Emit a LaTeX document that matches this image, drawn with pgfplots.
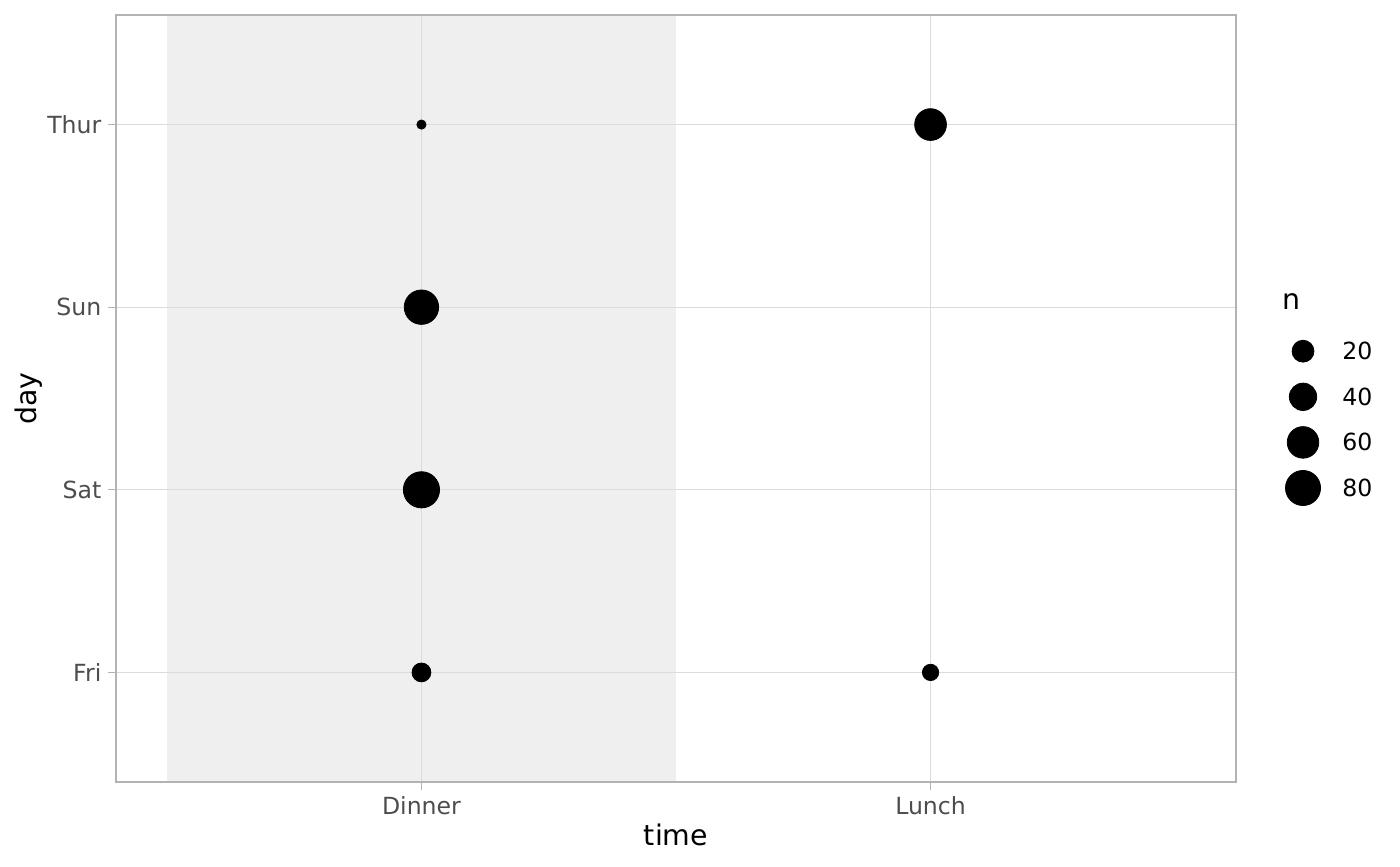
\documentclass[border=0pt]{standalone}
\usepackage{fontspec}
\setmainfont{DejaVu Sans}
\usepackage{pgfplots}
\usepackage{pgfplotstable}
\pgfplotsset{compat=1.18}
\definecolor{gridc}{HTML}{DBDBDB}
\definecolor{borderc}{HTML}{B3B3B3}
\definecolor{tickc}{HTML}{4D4D4D}
\definecolor{shade}{HTML}{EFEFEF}
\pgfplotstableread{
x y n
1 4 1
1 1 12
1 2 87
1 3 76
2 4 61
2 1 7
}\maindata
\pgfplotstableread{
x y n
0 4 20
0 3 40
0 2 60
0 1 80
}\legdata
\begin{document}
\begin{tikzpicture}
\begin{axis}[set layers, scale only axis, width=560pt, height=383.5pt,
  at={(0pt,0pt)}, anchor=south west,
  xmin=0.4, xmax=2.6, ymin=0.4, ymax=4.6,
  xtick={1,2}, xticklabels={Dinner,Lunch},
  ytick={1,2,3,4}, yticklabels={Fri,Sat,Sun,Thur},
  grid=major, major grid style={gridc, line width=0.5pt},
  axis line style={borderc, line width=0.6pt},
  tick style={borderc, line width=0.5pt}, tick align=outside, major tick length=3.8pt,
  xtick pos=bottom, ytick pos=left,
  ticklabel style={font=\fontsize{11.8}{14}\selectfont, text=tickc},
  label style={font=\fontsize{14.2}{17}\selectfont},
  xlabel={time}, ylabel={day},
  xlabel style={at={(axis description cs:0.5,-0.08214)}, anchor=base},
  ylabel style={at={(axis description cs:-0.07143,0.5)}, anchor=base},
]
\addplot[on layer=axis background, fill=shade, draw=none] coordinates {(0.5,0.4) (1.5,0.4) (1.5,4.6) (0.5,4.6)};
\addplot[scatter, only marks, mark=*, line width=0.4pt,
  scatter/use mapped color={draw=black, fill=black},
  point meta=\thisrow{n},
  visualization depends on={2.3+6.75*sqrt((\thisrow{n}-1)/86) \as \perpointmarksize},
  scatter/@pre marker code/.append style={/tikz/mark size=\perpointmarksize}]
  table[x=x, y=y] {\maindata};
\end{axis}
\begin{axis}[at={(583.5pt,135.6pt)}, anchor=south west, scale only axis,
  width=20pt, height=91.2pt, hide axis, xmin=-1, xmax=1, ymin=0.5, ymax=4.5,
  clip=false, /pgf/number format/assume math mode=true]
\addplot[scatter, only marks, mark=*, line width=0.4pt,
  scatter/use mapped color={draw=black, fill=black},
  point meta=\thisrow{n},
  visualization depends on={2.3+6.75*sqrt((\thisrow{n}-1)/86) \as \perpointmarksize},
  scatter/@pre marker code/.append style={/tikz/mark size=\perpointmarksize}]
  table[x=x, y=y] {\legdata};
\addplot[only marks, mark=none, point meta=\thisrow{n},
  nodes near coords,
  every node near coord/.append style={anchor=west, xshift=19.5pt, inner sep=0pt, text=black, font=\fontsize{11.8}{14}\selectfont}]
  table[x=x, y=y] {\legdata};
\end{axis}
\node[anchor=base west, inner sep=0pt, font=\fontsize{14.2}{17}\selectfont] at (583pt,236pt) {n};
\pgfresetboundingbox
\useasboundingbox (-58pt,-42pt) rectangle (642pt,391pt);
\end{tikzpicture}
\end{document}
